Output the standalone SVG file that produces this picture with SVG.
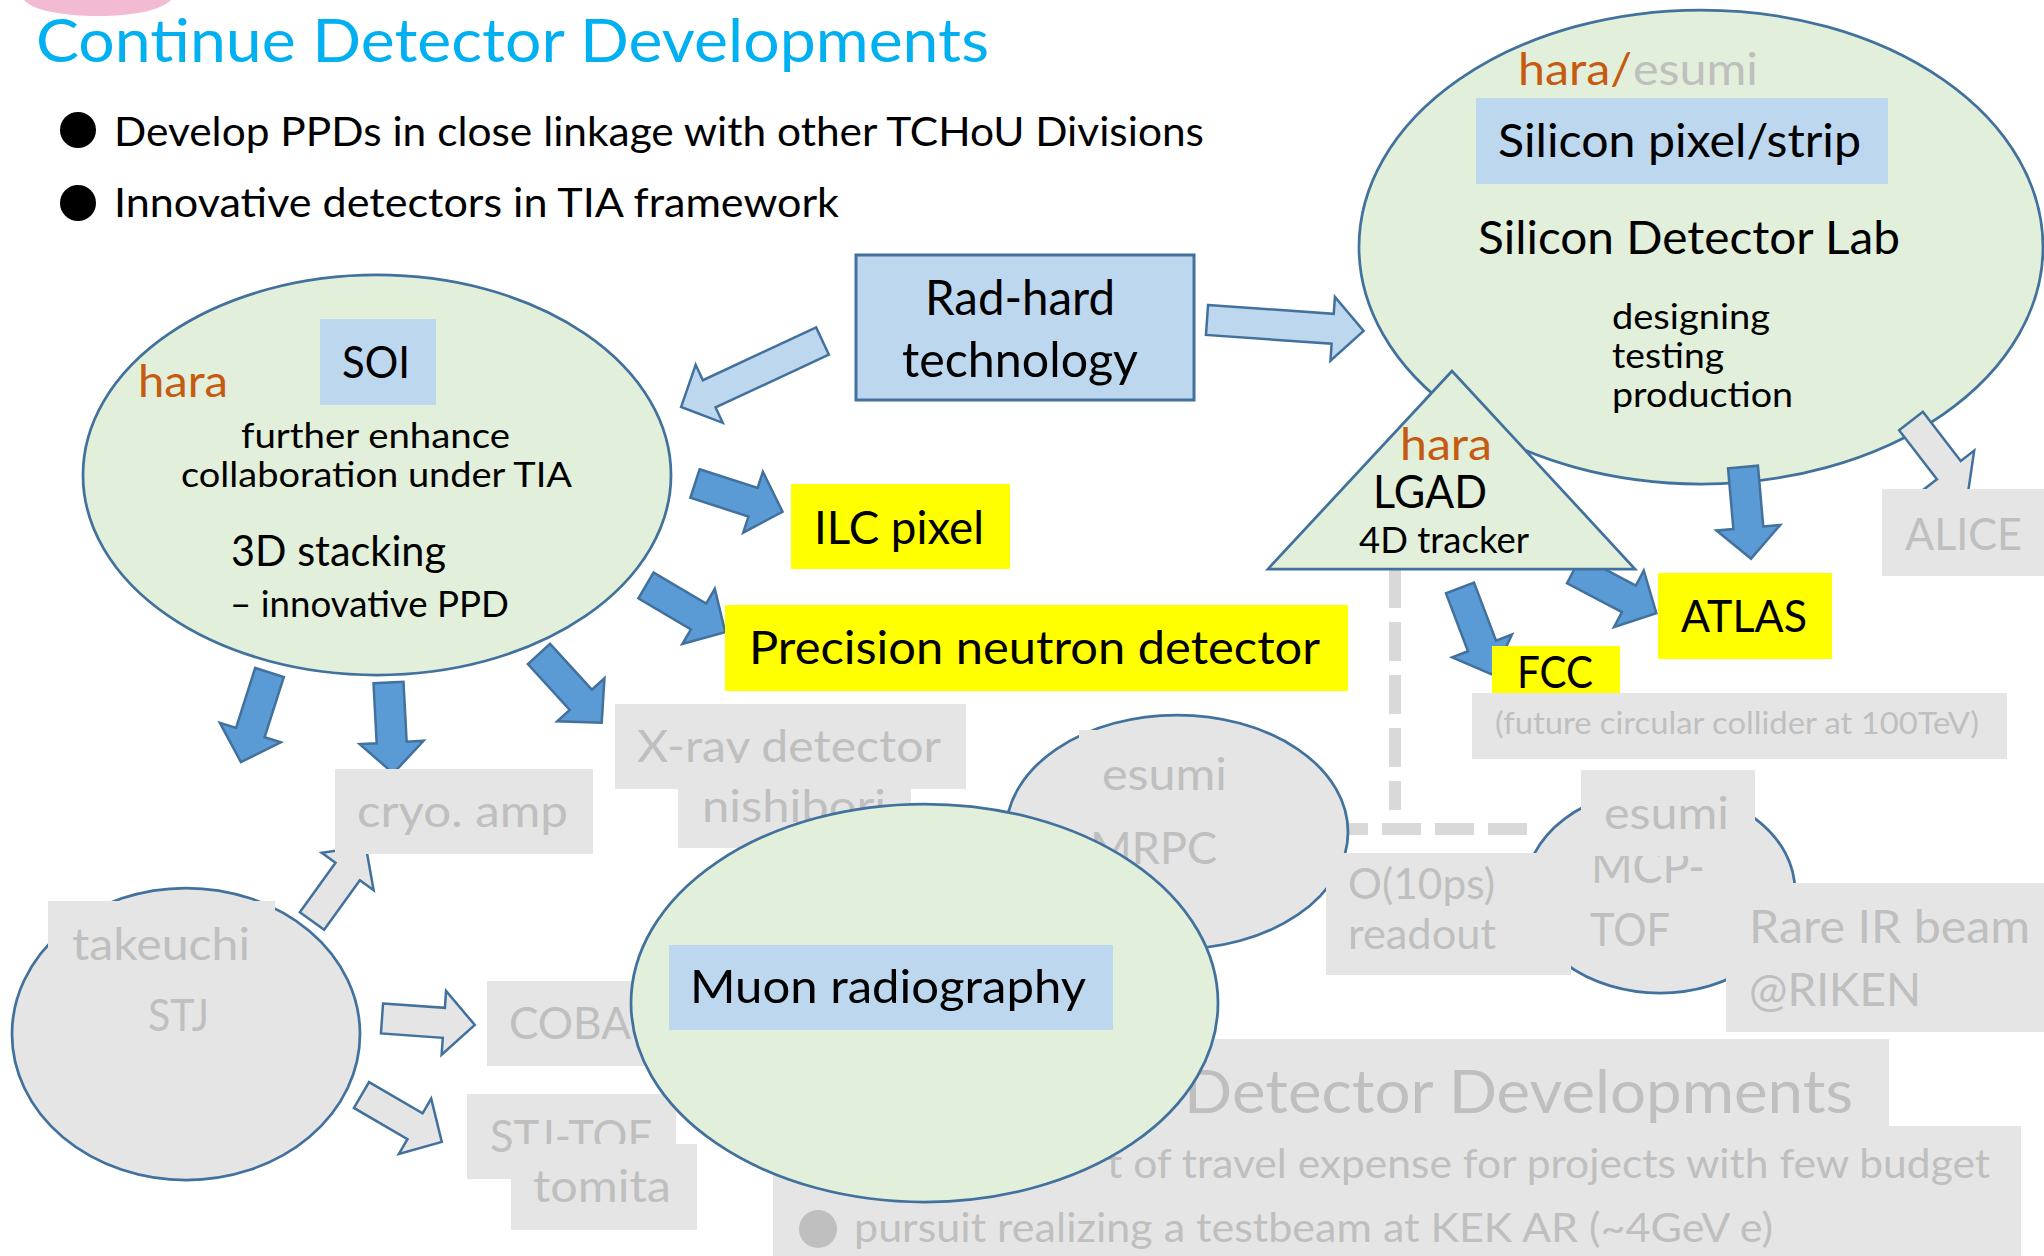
<svg xmlns="http://www.w3.org/2000/svg" width="2044" height="1256" viewBox="0 0 2044 1256">
  <style>
    text { font-family: Lato, "Open Sans", "Liberation Sans", sans-serif; }
    .k { fill: #000000; }
    .g { fill: #BFBFBF; }
    .o { fill: #C55A11; }
    .title { fill: #00B0F0; font-size: 60px; }
    .green { fill: #E2EFDA; stroke: #41719C; stroke-width: 2.75; }
    .grayn { fill: #E5E5E5; stroke: #41719C; stroke-width: 2.75; }
    .gbox { fill: #E5E5E5; }
    .bbox { fill: #BDD7EE; }
    .ybox { fill: #FFFF00; }
    .arr-b { fill: #5B9BD5; stroke: #41719C; stroke-width: 2.5; }
    .arr-l { fill: #BDD7EE; stroke: #41719C; stroke-width: 2.5; }
    .arr-g { fill: #E5E5E5; stroke: #41719C; stroke-width: 2.5; }
    .dash { fill: none; stroke: #D9D9D9; stroke-width: 12; stroke-dasharray: 39 14; }
  </style>

  <rect x="0" y="0" width="2044" height="1256" fill="#FFFFFF"/>

  <!-- logo fragment at the top edge -->
  <path d="M24,0 C32,10 62,16 98,16 C138,16 162,9 171,0 Z" fill="#F2BBD3"/>

  <!-- heading and bullets -->
  <g id="heading">
    <text class="title" x="36" y="62" textLength="953" lengthAdjust="spacingAndGlyphs">Continue Detector Developments</text>
    <circle cx="78" cy="130" r="18" fill="#000"/>
    <text class="k" x="114" y="146" font-size="41" textLength="1090" lengthAdjust="spacingAndGlyphs">Develop PPDs in close linkage with other TCHoU Divisions</text>
    <circle cx="78" cy="203" r="18" fill="#000"/>
    <text class="k" x="114" y="217" font-size="41" textLength="725" lengthAdjust="spacingAndGlyphs">Innovative detectors in TIA framework</text>
  </g>

  <!-- Silicon Detector Lab -->
  <g id="silicon-lab">
    <ellipse class="green" cx="1701" cy="247" rx="342" ry="237"/>
    <text class="o" x="1518" y="85" font-size="44" textLength="114" lengthAdjust="spacingAndGlyphs">hara/</text>
    <text class="g" x="1633" y="85" font-size="44" textLength="125" lengthAdjust="spacingAndGlyphs">esumi</text>
    <rect class="bbox" x="1476" y="98" width="412" height="86"/>
    <text class="k" x="1498" y="157" font-size="47" textLength="363" lengthAdjust="spacingAndGlyphs">Silicon pixel/strip</text>
    <text class="k" x="1478" y="254" font-size="47" textLength="422" lengthAdjust="spacingAndGlyphs">Silicon Detector Lab</text>
    <text class="k" x="1612" y="329" font-size="34" textLength="158" lengthAdjust="spacingAndGlyphs">designing</text>
    <text class="k" x="1612" y="368" font-size="34" textLength="112" lengthAdjust="spacingAndGlyphs">testing</text>
    <text class="k" x="1612" y="407" font-size="34" textLength="181" lengthAdjust="spacingAndGlyphs">production</text>
  </g>

  <!-- SOI -->
  <g id="soi">
    <ellipse class="green" cx="377" cy="475" rx="294" ry="200"/>
    <rect class="bbox" x="320" y="319" width="116" height="86"/>
    <text class="k" x="342" y="378" font-size="45" textLength="68" lengthAdjust="spacingAndGlyphs">SOI</text>
    <text class="o" x="138" y="397" font-size="44" textLength="90" lengthAdjust="spacingAndGlyphs">hara</text>
    <text class="k" x="241" y="448" font-size="35" textLength="269" lengthAdjust="spacingAndGlyphs">further enhance</text>
    <text class="k" x="181" y="487" font-size="35" textLength="391" lengthAdjust="spacingAndGlyphs">collaboration under TIA</text>
    <text class="k" x="231" y="566" font-size="42" textLength="215" lengthAdjust="spacingAndGlyphs">3D stacking</text>
    <text class="k" x="230" y="617" font-size="37" textLength="279" lengthAdjust="spacingAndGlyphs">– innovative PPD</text>
  </g>

  <!-- Rad-hard technology -->
  <g id="rad-hard">
    <rect class="bbox" x="856" y="255" width="338" height="145" stroke="#41719C" stroke-width="3"/>
    <text class="k" x="925" y="315" font-size="48" textLength="190" lengthAdjust="spacingAndGlyphs">Rad-hard</text>
    <text class="k" x="902" y="377" font-size="48" textLength="236" lengthAdjust="spacingAndGlyphs">technology</text>
  </g>

  <!-- block arrows -->
  <g id="connectors">
    <!-- Rad-hard to SOI and to the silicon lab -->
    <polygon class="arr-l" transform="translate(822.5,341) rotate(155)" points="0,-15 125,-15 125,-32 156,0 125,32 125,15 0,15"/>
    <polygon class="arr-l" transform="translate(1207,320) rotate(4)" points="0,-15 126,-15 126,-32 157,0 126,32 126,15 0,15"/>
    <!-- SOI outputs -->
    <polygon class="arr-b" transform="translate(695,483.5) rotate(17.9)" points="0,-15 61,-15 61,-32 92,0 61,32 61,15 0,15"/>
    <polygon class="arr-b" transform="translate(646,585.5) rotate(30.5)" points="0,-15 61,-15 61,-32 92,0 61,32 61,15 0,15"/>
    <polygon class="arr-b" transform="translate(539,654) rotate(47.6)" points="0,-15 62,-15 62,-32 93,0 62,32 62,15 0,15"/>
    <polygon class="arr-b" transform="translate(269.5,672.5) rotate(107.7)" points="0,-15 63,-15 63,-32 94,0 63,32 63,15 0,15"/>
    <polygon class="arr-b" transform="translate(388.5,682.5) rotate(87)" points="0,-15 60,-15 60,-32 91,0 60,32 60,15 0,15"/>
    <!-- silicon lab outputs -->
    <polygon class="arr-b" transform="translate(1743,467) rotate(85)" points="0,-15 61,-15 61,-32 92,0 61,32 61,15 0,15"/>
    <polygon class="arr-g" transform="translate(1911,421) rotate(52.4)" points="0,-15 62,-15 62,-32 93,0 62,32 62,15 0,15"/>
    <!-- LGAD outputs -->
    <polygon class="arr-b" transform="translate(1460,588) rotate(69.2)" points="0,-15 62,-15 62,-32 93,0 62,32 62,15 0,15"/>
    <polygon class="arr-b" transform="translate(1574,570) rotate(27.7)" points="0,-15 62,-15 62,-32 93,0 62,32 62,15 0,15"/>
    <!-- STJ outputs -->
    <polygon class="arr-g" transform="translate(312,921) rotate(-54.2)" points="0,-15 61,-15 61,-32 92,0 61,32 61,15 0,15"/>
    <polygon class="arr-g" transform="translate(382,1018.5) rotate(4)" points="0,-15 62,-15 62,-32 93,0 62,32 62,15 0,15"/>
    <polygon class="arr-g" transform="translate(361.5,1095) rotate(30.3)" points="0,-15 62,-15 62,-32 93,0 62,32 62,15 0,15"/>
    <!-- dashed links from LGAD -->
    <line class="dash" x1="1395" y1="569" x2="1395" y2="810"/>
    <line class="dash" x1="1527" y1="829" x2="1295" y2="829"/>
  </g>

  <!-- LGAD -->
  <g id="lgad">
    <polygon class="green" points="1452,371 1268,569 1635,569"/>
    <text class="o" x="1400" y="460" font-size="44" textLength="92" lengthAdjust="spacingAndGlyphs">hara</text>
    <text class="k" x="1373" y="508" font-size="46" textLength="114" lengthAdjust="spacingAndGlyphs">LGAD</text>
    <text class="k" x="1359" y="553" font-size="36" textLength="170" lengthAdjust="spacingAndGlyphs">4D tracker</text>
  </g>

  <g id="ilc-pixel">
    <rect class="ybox" x="791" y="484" width="219" height="85"/>
    <text class="k" x="814" y="544" font-size="47" textLength="170" lengthAdjust="spacingAndGlyphs">ILC pixel</text>
  </g>

  <g id="precision-neutron">
    <rect class="ybox" x="725" y="605" width="623" height="86"/>
    <text class="k" x="749" y="664" font-size="47" textLength="571" lengthAdjust="spacingAndGlyphs">Precision neutron detector</text>
  </g>

  <g id="atlas">
    <rect class="ybox" x="1658" y="573" width="174" height="86"/>
    <text class="k" x="1681" y="632" font-size="45" textLength="126" lengthAdjust="spacingAndGlyphs">ATLAS</text>
  </g>

  <g id="fcc">
    <rect class="ybox" x="1492" y="646" width="128" height="86"/>
    <text class="k" x="1517" y="688" font-size="45" textLength="76" lengthAdjust="spacingAndGlyphs">FCC</text>
  </g>

  <g id="fcc-note">
    <rect class="gbox" x="1472" y="693" width="535" height="66"/>
    <text class="g" x="1495" y="734" font-size="31" textLength="484" lengthAdjust="spacingAndGlyphs">(future circular collider at 100TeV)</text>
  </g>

  <g id="alice">
    <rect class="gbox" x="1882" y="489" width="162" height="87"/>
    <text class="g" x="1905" y="550" font-size="45" textLength="117" lengthAdjust="spacingAndGlyphs">ALICE</text>
  </g>

  <!-- STJ -->
  <g id="stj">
    <ellipse class="grayn" cx="186" cy="1034" rx="174" ry="146"/>
    <rect class="gbox" x="48" y="901" width="227" height="159"/>
    <text class="g" x="72" y="960" font-size="44" textLength="178" lengthAdjust="spacingAndGlyphs">takeuchi</text>
    <text class="g" x="148" y="1031" font-size="44" textLength="61" lengthAdjust="spacingAndGlyphs">STJ</text>
  </g>

  <g id="cryo-amp">
    <rect class="gbox" x="335" y="769" width="258" height="85"/>
    <text class="g" x="357" y="827" font-size="44" textLength="211" lengthAdjust="spacingAndGlyphs">cryo. amp</text>
  </g>

  <g id="xray">
    <rect class="gbox" x="615" y="704" width="351" height="85"/>
    <text class="g" x="637" y="762" font-size="44" textLength="304" lengthAdjust="spacingAndGlyphs">X-ray detector</text>
    <rect class="gbox" x="678" y="763" width="233" height="85"/>
    <text class="g" x="702" y="822" font-size="44" textLength="184" lengthAdjust="spacingAndGlyphs">nishibori</text>
  </g>

  <g id="coba">
    <rect class="gbox" x="487" y="981" width="173" height="85"/>
    <text class="g" x="509" y="1039" font-size="44" textLength="122" lengthAdjust="spacingAndGlyphs">COBA</text>
  </g>

  <g id="stj-tof">
    <rect class="gbox" x="467" y="1094" width="209" height="85"/>
    <text class="g" x="490" y="1152" font-size="44" textLength="162" lengthAdjust="spacingAndGlyphs">STJ-TOF</text>
    <rect class="gbox" x="511" y="1144" width="186" height="86"/>
    <text class="g" x="533" y="1202" font-size="44" textLength="138" lengthAdjust="spacingAndGlyphs">tomita</text>
  </g>

  <!-- MRPC -->
  <g id="mrpc">
    <ellipse class="grayn" cx="1177" cy="832" rx="171" ry="117"/>
    <rect class="gbox" x="1079" y="730" width="161" height="150"/>
    <text class="g" x="1102" y="790" font-size="44" textLength="125" lengthAdjust="spacingAndGlyphs">esumi</text>
    <text class="g" x="1090" y="864" font-size="44" textLength="127" lengthAdjust="spacingAndGlyphs">MRPC</text>
  </g>

  <!-- MCP-TOF -->
  <g id="mcp-tof">
    <ellipse class="grayn" cx="1660" cy="891" rx="135" ry="102"/>
    <text class="g" x="1591" y="883" font-size="46" textLength="114" lengthAdjust="spacingAndGlyphs">MCP-</text>
    <text class="g" x="1590" y="946" font-size="46" textLength="80" lengthAdjust="spacingAndGlyphs">TOF</text>
    <rect class="gbox" x="1581" y="770" width="174" height="86"/>
    <text class="g" x="1604" y="829" font-size="44" textLength="125" lengthAdjust="spacingAndGlyphs">esumi</text>
  </g>

  <g id="readout">
    <rect class="gbox" x="1326" y="853" width="245" height="122"/>
    <text class="g" x="1348" y="899" font-size="42" textLength="147" lengthAdjust="spacingAndGlyphs">O(10ps)</text>
    <text class="g" x="1348" y="949" font-size="42" textLength="148" lengthAdjust="spacingAndGlyphs">readout</text>
  </g>

  <g id="rare-ir">
    <rect class="gbox" x="1726" y="883" width="318" height="149"/>
    <text class="g" x="1749" y="943" font-size="46" textLength="281" lengthAdjust="spacingAndGlyphs">Rare IR beam</text>
    <text class="g" x="1749" y="1006" font-size="46" textLength="172" lengthAdjust="spacingAndGlyphs">@RIKEN</text>
  </g>

  <!-- faded lower text block -->
  <g id="lower-block">
    <rect class="gbox" x="1000" y="1039" width="889" height="87"/>
    <text class="g" x="1184" y="1113" font-size="60" textLength="669" lengthAdjust="spacingAndGlyphs">Detector Developments</text>
    <rect class="gbox" x="773" y="1126" width="1248" height="130"/>
    <text class="g" x="1107" y="1178" font-size="41" textLength="883" lengthAdjust="spacingAndGlyphs">t of travel expense for projects with few budget</text>
    <circle cx="818" cy="1229" r="19" fill="#BFBFBF"/>
    <text class="g" x="854" y="1242" font-size="41" textLength="919" lengthAdjust="spacingAndGlyphs">pursuit realizing a testbeam at KEK AR (~4GeV e)</text>
  </g>

  <!-- Muon radiography -->
  <g id="muon">
    <ellipse class="green" cx="924.5" cy="1003" rx="293.5" ry="199"/>
    <rect class="bbox" x="669" y="945" width="444" height="85"/>
    <text class="k" x="690" y="1003" font-size="47" textLength="396" lengthAdjust="spacingAndGlyphs">Muon radiography</text>
  </g>
</svg>
